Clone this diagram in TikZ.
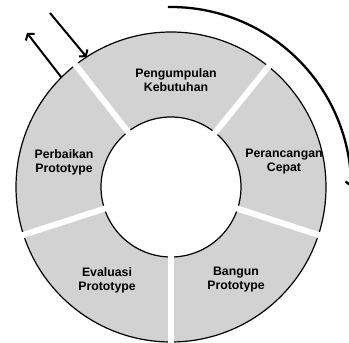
\documentclass[tikz,border=0pt]{standalone}
\usepackage{fontspec}
\setmainfont{Liberation Sans}
\usetikzlibrary{arrows.meta}
\definecolor{ringgray}{RGB}{210,210,210}
\begin{document}
\begin{tikzpicture}[x=1pt,y=1pt,
  lbl/.style={font=\fontsize{12.3}{14}\selectfont\bfseries, align=center, inner sep=0pt},
  gapline/.style={white, line width=6pt},
  rimline/.style={black, line width=1.2pt},
  flowarrow/.style={line width=2pt, -{Straight Barb[length=4pt,width=11pt]}},
  cyclearc/.style={line width=2.3pt, -{Straight Barb[length=4pt,width=11pt]}}]
\useasboundingbox (0,0) rectangle (349,343);
\clip (0,0) rectangle (349,343);
\coordinate (c) at (171,156);
% ring
\fill[ringgray, even odd rule] (c) circle[radius=155] (c) circle[radius=70];
\draw[rimline] (c) circle[radius=155];
\draw[rimline] (c) circle[radius=70];
\foreach \a in {51,128,198,270,342}
  \draw[gapline, shift={(c)}] (\a:66) -- (\a:159);
% labels
\node[lbl] (kebutuhan) at (176,263) {Pengumpulan\\Kebutuhan};
\node[lbl] (cepat) at (284,181) {Perancangan\\Cepat};
\node[lbl] (bangun) at (236,63) {Bangun\\Prototype};
\node[lbl] (evaluasi) at (107,63) {Evaluasi\\Prototype};
\node[lbl] (perbaikan) at (64,181) {Perbaikan\\Prototype};
% outer cycle arc
\coordinate (arcstart) at ([shift={(91:180)}]c);
\draw[cyclearc] (arcstart) arc[start angle=91, end angle=0, radius=180];
% in / out arrows
\coordinate (outfrom) at ([shift={(135:155)}]c);
\coordinate (outto) at (27,310);
\coordinate (infrom) at (50,330);
\coordinate (into) at ([shift={(123:155)}]c);
\draw[flowarrow] (outfrom) -- (outto);
\draw[flowarrow] (infrom) -- (into);
\end{tikzpicture}
\end{document}
